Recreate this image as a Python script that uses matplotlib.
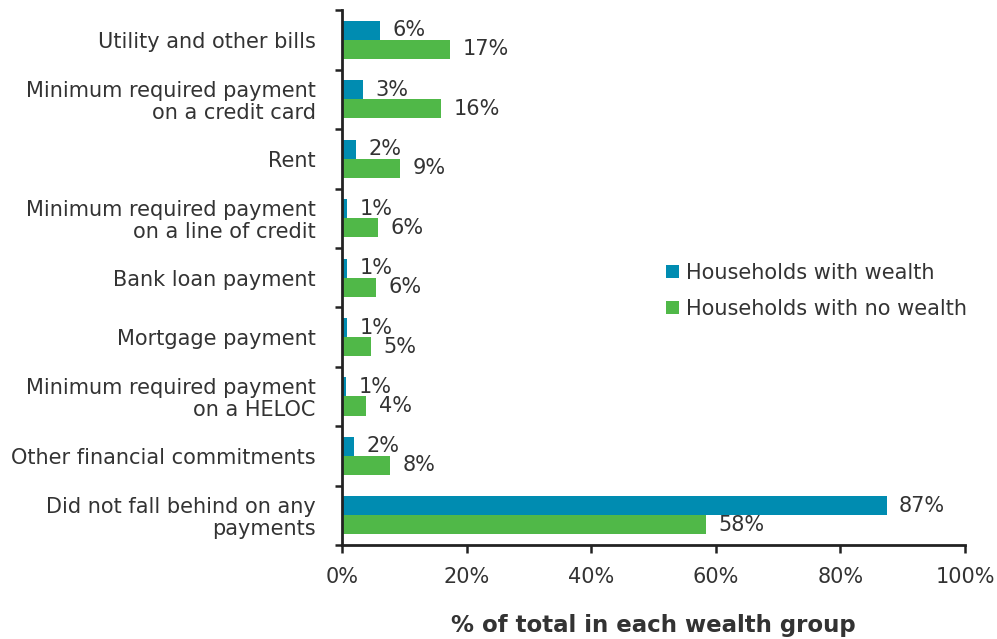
import matplotlib.pyplot as plt
import numpy as np

# Categories from top to bottom
categories = [
    'Utility and other bills',
    'Minimum required payment\non a credit card',
    'Rent',
    'Minimum required payment\non a line of credit',
    'Bank loan payment',
    'Mortgage payment',
    'Minimum required payment\non a HELOC',
    'Other financial commitments',
    'Did not fall behind on any\npayments',
]
with_wealth = [6.1, 3.4, 2.2, 0.8, 0.8, 0.8, 0.6, 1.9, 87.4]
no_wealth = [17.3, 15.9, 9.3, 5.8, 5.5, 4.7, 3.9, 7.7, 58.4]
series_names = ['Households with wealth', 'Households with no wealth']
x_ticks = [0, 20, 40, 60, 80, 100]

BLUE = '#008cb1'
GREEN = '#50b848'
TEXT = '#333333'
FS = 15

plt.rcParams['font.family'] = ['DejaVu Sans']

fig = plt.figure(figsize=(9.97, 6.39), dpi=100)
ax = fig.add_axes([0.343, 0.147, 0.625, 0.837])

n = len(categories)
y = np.arange(n)
h = 0.32

b1 = ax.barh(y - h / 2, with_wealth, height=h, color=BLUE, label=series_names[0])
b2 = ax.barh(y + h / 2, no_wealth, height=h, color=GREEN, label=series_names[1])

# value labels just past the end of each bar
for bars, vals in ((b1, with_wealth), (b2, no_wealth)):
    for bar, v in zip(bars, vals):
        ax.annotate(f'{v:.0f}%', (v, bar.get_y() + bar.get_height() / 2),
                    xytext=(9, 0), textcoords='offset points',
                    ha='left', va='center', fontsize=FS, color=TEXT)

ax.set_ylim(n - 0.5, -0.5)
ax.set_xlim(0, 100)
ax.set_xticks(x_ticks)
ax.set_xticklabels([f'{t}%' for t in x_ticks])
ax.set_yticks(y)
ax.set_yticklabels(categories, ha='right', multialignment='right',
                   linespacing=1.1)
ax.tick_params(axis='y', length=0, pad=19, labelsize=FS, labelcolor=TEXT)
# tick marks sit between the categories
ax.set_yticks(np.arange(n + 1) - 0.5, minor=True)
ax.tick_params(axis='y', which='minor', length=5, width=1.8, color='#222222')
ax.tick_params(axis='x', length=6, width=1.8, color='#222222', pad=10,
               labelsize=FS, labelcolor=TEXT)

for side in ('top', 'right'):
    ax.spines[side].set_visible(False)
for side in ('left', 'bottom'):
    ax.spines[side].set_linewidth(2)
    ax.spines[side].set_color('#222222')

ax.set_xlabel('% of total in each wealth group', fontsize=16.5, fontweight='bold',
              color=TEXT, labelpad=19)

ax.legend(loc='center left', bbox_to_anchor=(0.49, 0.475), frameon=False,
          fontsize=FS, handlelength=0.6, handleheight=0.6, handletextpad=0.35,
          labelspacing=0.75, labelcolor=TEXT)

fig.savefig('out.png', dpi=100)
